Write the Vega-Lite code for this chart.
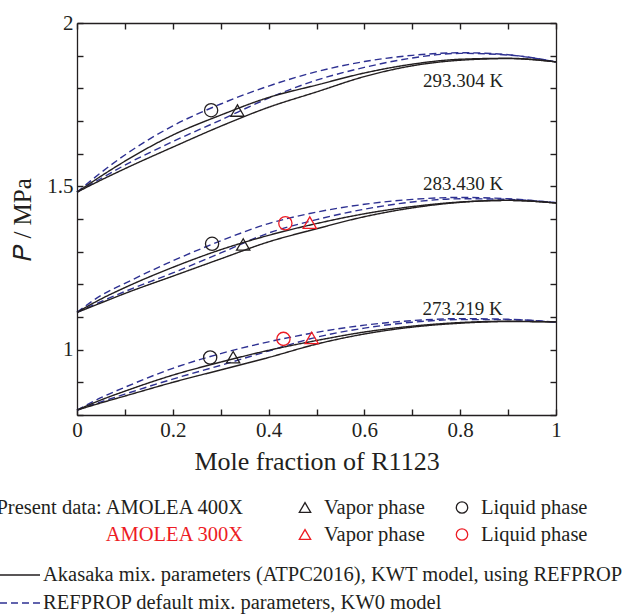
{
  "$schema": "https://vega.github.io/schema/vega-lite/v6.json",
  "padding": {"left": -6, "top": 12, "right": 0, "bottom": 0},
  "background": "white",
  "config": {
    "font": "Liberation Serif",
    "view": {"stroke": null},
    "axis": {
      "labelFont": "Liberation Serif", "titleFont": "Liberation Serif",
      "labelColor": "#231f20", "titleColor": "#231f20",
      "domainColor": "#231f20", "tickColor": "#231f20",
      "grid": false, "domainWidth": 1.3, "tickWidth": 1.4, "ticks": true,
      "titleFontWeight": "normal", "labelFlush": false, "labelOverlap": false
    }
  },
  "datasets": {
    "curves": [
      {"curve":"293-KW0-b","model":"KW0","x":0,"P":1.482},{"curve":"293-KW0-b","model":"KW0","x":0.05,"P":1.542},{"curve":"293-KW0-b","model":"KW0","x":0.1,"P":1.596},{"curve":"293-KW0-b","model":"KW0","x":0.2,"P":1.685},{"curve":"293-KW0-b","model":"KW0","x":0.3,"P":1.752},{"curve":"293-KW0-b","model":"KW0","x":0.4,"P":1.807},{"curve":"293-KW0-b","model":"KW0","x":0.5,"P":1.851},{"curve":"293-KW0-b","model":"KW0","x":0.6,"P":1.882},{"curve":"293-KW0-b","model":"KW0","x":0.7,"P":1.901},{"curve":"293-KW0-b","model":"KW0","x":0.8,"P":1.909},{"curve":"293-KW0-b","model":"KW0","x":0.9,"P":1.903},{"curve":"293-KW0-b","model":"KW0","x":1,"P":1.881},
      {"curve":"293-KW0-d","model":"KW0","x":0,"P":1.482},{"curve":"293-KW0-d","model":"KW0","x":0.05,"P":1.524},{"curve":"293-KW0-d","model":"KW0","x":0.1,"P":1.565},{"curve":"293-KW0-d","model":"KW0","x":0.2,"P":1.637},{"curve":"293-KW0-d","model":"KW0","x":0.3,"P":1.703},{"curve":"293-KW0-d","model":"KW0","x":0.4,"P":1.77},{"curve":"293-KW0-d","model":"KW0","x":0.5,"P":1.825},{"curve":"293-KW0-d","model":"KW0","x":0.6,"P":1.864},{"curve":"293-KW0-d","model":"KW0","x":0.7,"P":1.893},{"curve":"293-KW0-d","model":"KW0","x":0.8,"P":1.907},{"curve":"293-KW0-d","model":"KW0","x":0.9,"P":1.902},{"curve":"293-KW0-d","model":"KW0","x":1,"P":1.881},
      {"curve":"293-KWT-b","model":"KWT","x":0,"P":1.482},{"curve":"293-KWT-b","model":"KWT","x":0.05,"P":1.531},{"curve":"293-KWT-b","model":"KWT","x":0.1,"P":1.577},{"curve":"293-KWT-b","model":"KWT","x":0.2,"P":1.657},{"curve":"293-KWT-b","model":"KWT","x":0.3,"P":1.718},{"curve":"293-KWT-b","model":"KWT","x":0.4,"P":1.772},{"curve":"293-KWT-b","model":"KWT","x":0.5,"P":1.81},{"curve":"293-KWT-b","model":"KWT","x":0.6,"P":1.847},{"curve":"293-KWT-b","model":"KWT","x":0.7,"P":1.874},{"curve":"293-KWT-b","model":"KWT","x":0.8,"P":1.889},{"curve":"293-KWT-b","model":"KWT","x":0.9,"P":1.892},{"curve":"293-KWT-b","model":"KWT","x":1,"P":1.881},
      {"curve":"293-KWT-d","model":"KWT","x":0,"P":1.482},{"curve":"293-KWT-d","model":"KWT","x":0.05,"P":1.519},{"curve":"293-KWT-d","model":"KWT","x":0.1,"P":1.554},{"curve":"293-KWT-d","model":"KWT","x":0.2,"P":1.62},{"curve":"293-KWT-d","model":"KWT","x":0.3,"P":1.684},{"curve":"293-KWT-d","model":"KWT","x":0.4,"P":1.742},{"curve":"293-KWT-d","model":"KWT","x":0.5,"P":1.789},{"curve":"293-KWT-d","model":"KWT","x":0.6,"P":1.836},{"curve":"293-KWT-d","model":"KWT","x":0.7,"P":1.869},{"curve":"293-KWT-d","model":"KWT","x":0.8,"P":1.886},{"curve":"293-KWT-d","model":"KWT","x":0.9,"P":1.891},{"curve":"293-KWT-d","model":"KWT","x":1,"P":1.881},

      {"curve":"283-KW0-b","model":"KW0","x":0,"P":1.114},{"curve":"283-KW0-b","model":"KW0","x":0.05,"P":1.166},{"curve":"283-KW0-b","model":"KW0","x":0.1,"P":1.203},{"curve":"283-KW0-b","model":"KW0","x":0.2,"P":1.272},{"curve":"283-KW0-b","model":"KW0","x":0.3,"P":1.333},{"curve":"283-KW0-b","model":"KW0","x":0.4,"P":1.386},{"curve":"283-KW0-b","model":"KW0","x":0.5,"P":1.421},{"curve":"283-KW0-b","model":"KW0","x":0.6,"P":1.445},{"curve":"283-KW0-b","model":"KW0","x":0.7,"P":1.46},{"curve":"283-KW0-b","model":"KW0","x":0.8,"P":1.466},{"curve":"283-KW0-b","model":"KW0","x":0.9,"P":1.462},{"curve":"283-KW0-b","model":"KW0","x":1,"P":1.45},
      {"curve":"283-KW0-d","model":"KW0","x":0,"P":1.114},{"curve":"283-KW0-d","model":"KW0","x":0.05,"P":1.147},{"curve":"283-KW0-d","model":"KW0","x":0.1,"P":1.178},{"curve":"283-KW0-d","model":"KW0","x":0.2,"P":1.235},{"curve":"283-KW0-d","model":"KW0","x":0.3,"P":1.296},{"curve":"283-KW0-d","model":"KW0","x":0.4,"P":1.357},{"curve":"283-KW0-d","model":"KW0","x":0.5,"P":1.398},{"curve":"283-KW0-d","model":"KW0","x":0.6,"P":1.43},{"curve":"283-KW0-d","model":"KW0","x":0.7,"P":1.452},{"curve":"283-KW0-d","model":"KW0","x":0.8,"P":1.462},{"curve":"283-KW0-d","model":"KW0","x":0.9,"P":1.46},{"curve":"283-KW0-d","model":"KW0","x":1,"P":1.45},
      {"curve":"283-KWT-b","model":"KWT","x":0,"P":1.114},{"curve":"283-KWT-b","model":"KWT","x":0.05,"P":1.155},{"curve":"283-KWT-b","model":"KWT","x":0.1,"P":1.19},{"curve":"283-KWT-b","model":"KWT","x":0.2,"P":1.252},{"curve":"283-KWT-b","model":"KWT","x":0.3,"P":1.306},{"curve":"283-KWT-b","model":"KWT","x":0.4,"P":1.35},{"curve":"283-KWT-b","model":"KWT","x":0.5,"P":1.386},{"curve":"283-KWT-b","model":"KWT","x":0.6,"P":1.416},{"curve":"283-KWT-b","model":"KWT","x":0.7,"P":1.438},{"curve":"283-KWT-b","model":"KWT","x":0.8,"P":1.452},{"curve":"283-KWT-b","model":"KWT","x":0.9,"P":1.457},{"curve":"283-KWT-b","model":"KWT","x":1,"P":1.449},
      {"curve":"283-KWT-d","model":"KWT","x":0,"P":1.114},{"curve":"283-KWT-d","model":"KWT","x":0.05,"P":1.143},{"curve":"283-KWT-d","model":"KWT","x":0.1,"P":1.172},{"curve":"283-KWT-d","model":"KWT","x":0.2,"P":1.225},{"curve":"283-KWT-d","model":"KWT","x":0.3,"P":1.278},{"curve":"283-KWT-d","model":"KWT","x":0.4,"P":1.33},{"curve":"283-KWT-d","model":"KWT","x":0.5,"P":1.37},{"curve":"283-KWT-d","model":"KWT","x":0.6,"P":1.407},{"curve":"283-KWT-d","model":"KWT","x":0.7,"P":1.434},{"curve":"283-KWT-d","model":"KWT","x":0.8,"P":1.451},{"curve":"283-KWT-d","model":"KWT","x":0.9,"P":1.457},{"curve":"283-KWT-d","model":"KWT","x":1,"P":1.449},

      {"curve":"273-KW0-b","model":"KW0","x":0,"P":0.815},{"curve":"273-KW0-b","model":"KW0","x":0.05,"P":0.853},{"curve":"273-KW0-b","model":"KW0","x":0.1,"P":0.885},{"curve":"273-KW0-b","model":"KW0","x":0.2,"P":0.943},{"curve":"273-KW0-b","model":"KW0","x":0.3,"P":0.988},{"curve":"273-KW0-b","model":"KW0","x":0.4,"P":1.024},{"curve":"273-KW0-b","model":"KW0","x":0.5,"P":1.053},{"curve":"273-KW0-b","model":"KW0","x":0.6,"P":1.075},{"curve":"273-KW0-b","model":"KW0","x":0.7,"P":1.089},{"curve":"273-KW0-b","model":"KW0","x":0.8,"P":1.095},{"curve":"273-KW0-b","model":"KW0","x":0.9,"P":1.093},{"curve":"273-KW0-b","model":"KW0","x":1,"P":1.084},
      {"curve":"273-KW0-d","model":"KW0","x":0,"P":0.815},{"curve":"273-KW0-d","model":"KW0","x":0.05,"P":0.84},{"curve":"273-KW0-d","model":"KW0","x":0.1,"P":0.864},{"curve":"273-KW0-d","model":"KW0","x":0.2,"P":0.91},{"curve":"273-KW0-d","model":"KW0","x":0.3,"P":0.952},{"curve":"273-KW0-d","model":"KW0","x":0.4,"P":0.996},{"curve":"273-KW0-d","model":"KW0","x":0.5,"P":1.038},{"curve":"273-KW0-d","model":"KW0","x":0.6,"P":1.066},{"curve":"273-KW0-d","model":"KW0","x":0.7,"P":1.084},{"curve":"273-KW0-d","model":"KW0","x":0.8,"P":1.092},{"curve":"273-KW0-d","model":"KW0","x":0.9,"P":1.092},{"curve":"273-KW0-d","model":"KW0","x":1,"P":1.084},
      {"curve":"273-KWT-b","model":"KWT","x":0,"P":0.815},{"curve":"273-KWT-b","model":"KWT","x":0.05,"P":0.846},{"curve":"273-KWT-b","model":"KWT","x":0.1,"P":0.873},{"curve":"273-KWT-b","model":"KWT","x":0.2,"P":0.922},{"curve":"273-KWT-b","model":"KWT","x":0.3,"P":0.962},{"curve":"273-KWT-b","model":"KWT","x":0.4,"P":0.998},{"curve":"273-KWT-b","model":"KWT","x":0.5,"P":1.028},{"curve":"273-KWT-b","model":"KWT","x":0.6,"P":1.054},{"curve":"273-KWT-b","model":"KWT","x":0.7,"P":1.072},{"curve":"273-KWT-b","model":"KWT","x":0.8,"P":1.083},{"curve":"273-KWT-b","model":"KWT","x":0.9,"P":1.087},{"curve":"273-KWT-b","model":"KWT","x":1,"P":1.085},
      {"curve":"273-KWT-d","model":"KWT","x":0,"P":0.815},{"curve":"273-KWT-d","model":"KWT","x":0.05,"P":0.837},{"curve":"273-KWT-d","model":"KWT","x":0.1,"P":0.858},{"curve":"273-KWT-d","model":"KWT","x":0.2,"P":0.9},{"curve":"273-KWT-d","model":"KWT","x":0.3,"P":0.938},{"curve":"273-KWT-d","model":"KWT","x":0.4,"P":0.976},{"curve":"273-KWT-d","model":"KWT","x":0.5,"P":1.017},{"curve":"273-KWT-d","model":"KWT","x":0.6,"P":1.048},{"curve":"273-KWT-d","model":"KWT","x":0.7,"P":1.069},{"curve":"273-KWT-d","model":"KWT","x":0.8,"P":1.081},{"curve":"273-KWT-d","model":"KWT","x":0.9,"P":1.086},{"curve":"273-KWT-d","model":"KWT","x":1,"P":1.085}
    ],
    "points": [
      {"dataset":"AMOLEA 400X","phase":"Liquid phase","x":0.28,"P":1.733},
      {"dataset":"AMOLEA 400X","phase":"Vapor phase","x":0.335,"P":1.732},
      {"dataset":"AMOLEA 400X","phase":"Liquid phase","x":0.282,"P":1.324},
      {"dataset":"AMOLEA 400X","phase":"Vapor phase","x":0.347,"P":1.322},
      {"dataset":"AMOLEA 300X","phase":"Liquid phase","x":0.435,"P":1.387},
      {"dataset":"AMOLEA 300X","phase":"Vapor phase","x":0.486,"P":1.389},
      {"dataset":"AMOLEA 400X","phase":"Liquid phase","x":0.278,"P":0.976},
      {"dataset":"AMOLEA 400X","phase":"Vapor phase","x":0.326,"P":0.977},
      {"dataset":"AMOLEA 300X","phase":"Liquid phase","x":0.431,"P":1.033},
      {"dataset":"AMOLEA 300X","phase":"Vapor phase","x":0.49,"P":1.036}
    ],
    "tempLabels": [
      {"x":0.806,"P":1.822,"label":"293.304 K"},
      {"x":0.806,"P":1.506,"label":"283.430 K"},
      {"x":0.805,"P":1.125,"label":"273.219 K"}
    ],
    "legendNames": [
      {"dataset":"AMOLEA 400X","text":"Present data: AMOLEA 400X"},
      {"dataset":"AMOLEA 300X","text":"AMOLEA 300X"}
    ],
    "legendSyms": [
      {"dataset":"AMOLEA 400X","phase":"Vapor phase"},
      {"dataset":"AMOLEA 400X","phase":"Liquid phase"},
      {"dataset":"AMOLEA 300X","phase":"Vapor phase"},
      {"dataset":"AMOLEA 300X","phase":"Liquid phase"}
    ],
    "legendLines": [
      {"model":"KWT","text":"Akasaka mix. parameters (ATPC2016), KWT model, using REFPROP"},
      {"model":"KW0","text":"REFPROP default mix. parameters, KW0 model"}
    ]
  },
  "spacing": 20,
  "vconcat": [
    {
      "width": 479,
      "height": 392,
      "layer": [
        {
          "layer": [
            {
              "data": {"name": "curves"},
              "mark": {"type": "line", "interpolate": "monotone", "strokeWidth": 1.4},
              "encoding": {
                "x": {"field": "x", "type": "quantitative",
                  "scale": {"domain": [0, 1], "nice": false},
                  "axis": {"values": [0,0.1,0.2,0.3,0.4,0.5,0.6,0.7,0.8,0.9,1], "tickCount": 30,
                    "labelExpr": "abs(datum.value * 5 - round(datum.value * 5)) < 0.001 ? format(datum.value, '~g') : ''",
                    "labelOverlap": false, "labelFlush": false, "ticks": true,
                    "tickSize": -6, "labelPadding": 10, "labelFontSize": 21,
                    "title": "Mole fraction of R1123", "titleFontSize": 26, "titlePadding": 8}},
                "y": {"field": "P", "type": "quantitative",
                  "scale": {"domain": [0.8, 2], "nice": false, "zero": false},
                  "axis": {"values": [0.8,0.9,1,1.1,1.2,1.3,1.4,1.5,1.6,1.7,1.8,1.9,2], "tickCount": 30,
                    "labelExpr": "(datum.value > 0.99 && datum.value < 1.01) ? '1' : ((datum.value > 1.49 && datum.value < 1.51) ? '1.5' : (datum.value > 1.99 ? '2' : ''))",
                    "labelOverlap": false, "labelFlush": false, "ticks": true,
                    "tickSize": -6, "labelPadding": 10, "labelFontSize": 21,
                    "title": "𝑃 / MPa", "titleFontSize": 25, "titlePadding": 11}},
                "detail": {"field": "curve"},
                "stroke": {"field": "model", "type": "nominal",
                  "scale": {"domain": ["KWT", "KW0"], "range": ["#231f20", "#2e3192"]}, "legend": null},
                "strokeDash": {"field": "model", "type": "nominal",
                  "scale": {"domain": ["KWT", "KW0"], "range": [[1, 0], [7, 4]]}, "legend": null}
              }
            },
            {
              "data": {"name": "points"},
              "mark": {"type": "point", "filled": false, "strokeWidth": 1.3, "size": 175, "opacity": 1},
              "encoding": {
                "x": {"field": "x", "type": "quantitative"},
                "y": {"field": "P", "type": "quantitative"},
                "shape": {"field": "phase", "type": "nominal",
                  "scale": {"domain": ["Vapor phase", "Liquid phase"], "range": ["triangle-up", "circle"]}, "legend": null},
                "color": {"field": "dataset", "type": "nominal",
                  "scale": {"domain": ["AMOLEA 400X", "AMOLEA 300X"], "range": ["#231f20", "#ed1c24"]}, "legend": null}
              }
            },
            {
              "data": {"name": "tempLabels"},
              "mark": {"type": "text", "fontSize": 19, "color": "#231f20", "font": "Liberation Serif"},
              "encoding": {
                "x": {"field": "x", "type": "quantitative"},
                "y": {"field": "P", "type": "quantitative"},
                "text": {"field": "label"}
              }
            }
          ]
        },
        {
          "data": {"name": "points"},
          "mark": {"type": "point", "opacity": 0},
          "encoding": {
            "x": {"field": "x", "type": "quantitative",
              "axis": {"orient": "top", "values": [0,0.1,0.2,0.3,0.4,0.5,0.6,0.7,0.8,0.9,1], "tickCount": 30, "labels": false, "ticks": true, "title": null, "tickSize": -6}},
            "y": {"field": "P", "type": "quantitative",
              "axis": {"orient": "right", "values": [0.8,0.9,1,1.1,1.2,1.3,1.4,1.5,1.6,1.7,1.8,1.9,2], "tickCount": 30, "labels": false, "ticks": true, "title": null, "tickSize": -6}}
          }
        }
      ],
      "resolve": {"axis": {"x": "independent", "y": "independent"}}
    },
    {
      "spacing": 13,
      "vconcat": [
        {
          "width": 479,
          "height": 54,
          "layer": [
            {
              "data": {"name": "legendNames"},
              "mark": {"type": "text", "align": "right", "dx": -62, "fontSize": 20.5, "font": "Liberation Serif"},
              "encoding": {
                "x": {"datum": "Vapor phase", "type": "nominal",
                  "scale": {"type": "point", "domain": ["Vapor phase", "Liquid phase"], "range": [228, 385], "padding": 0}, "axis": null},
                "y": {"field": "dataset", "type": "nominal",
                  "scale": {"type": "point", "domain": ["AMOLEA 400X", "AMOLEA 300X"], "padding": 0.5}, "axis": null},
                "text": {"field": "text"},
                "color": {"field": "dataset", "type": "nominal", "legend": null}
              }
            },
            {
              "data": {"name": "legendSyms"},
              "mark": {"type": "point", "filled": false, "strokeWidth": 1.3, "size": 130, "opacity": 1},
              "encoding": {
                "x": {"field": "phase", "type": "nominal", "axis": null},
                "y": {"field": "dataset", "type": "nominal", "axis": null},
                "shape": {"field": "phase", "type": "nominal", "legend": null},
                "color": {"field": "dataset", "type": "nominal", "legend": null}
              }
            },
            {
              "data": {"name": "legendSyms"},
              "mark": {"type": "text", "align": "left", "dx": 19, "fontSize": 20.5, "color": "#231f20", "font": "Liberation Serif"},
              "encoding": {
                "x": {"field": "phase", "type": "nominal", "axis": null},
                "y": {"field": "dataset", "type": "nominal", "axis": null},
                "text": {"field": "phase"}
              }
            }
          ]
        },
        {
          "width": 479,
          "height": 56,
          "data": {"name": "legendLines"},
          "layer": [
            {
              "mark": {"type": "point", "shape": "stroke", "size": 1600, "strokeWidth": 1.4, "filled": false, "opacity": 1},
              "encoding": {
                "x": {"datum": "line", "type": "nominal",
                  "scale": {"type": "point", "domain": ["line", "label"], "range": [-57, -34], "padding": 0}, "axis": null},
                "y": {"field": "model", "type": "nominal",
                  "scale": {"type": "point", "domain": ["KWT", "KW0"], "padding": 0.5}, "axis": null},
                "stroke": {"field": "model", "type": "nominal", "legend": null},
                "strokeDash": {"field": "model", "type": "nominal", "legend": null}
              }
            },
            {
              "mark": {"type": "text", "align": "left", "fontSize": 20.5, "color": "#231f20", "font": "Liberation Serif"},
              "encoding": {
                "x": {"datum": "label", "type": "nominal"},
                "y": {"field": "model", "type": "nominal"},
                "text": {"field": "text"}
              }
            }
          ]
        }
      ]
    }
  ]
}
